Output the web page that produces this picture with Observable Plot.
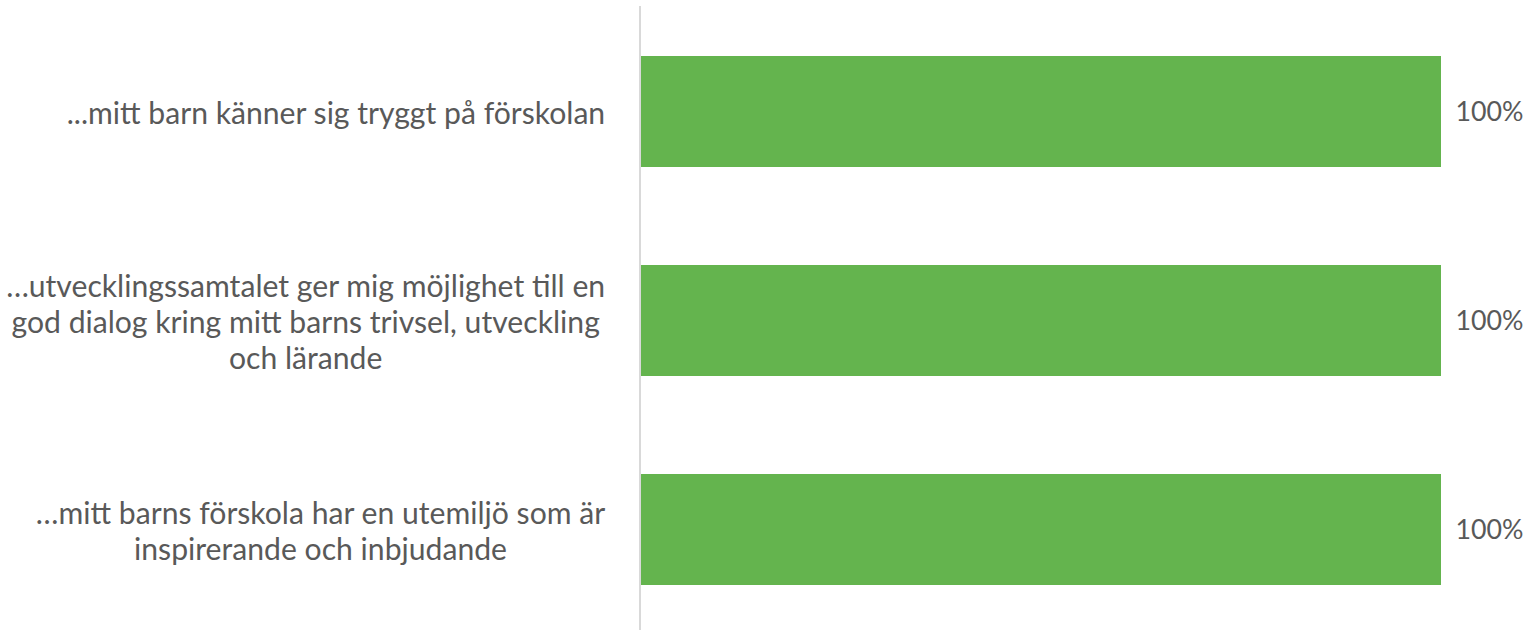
<!DOCTYPE html>
<html>
<head>
<meta charset="utf-8">
<script src="https://cdn.jsdelivr.net/npm/d3@7"></script>
<script src="https://cdn.jsdelivr.net/npm/@observablehq/plot@0.6"></script>
<style>
  html, body { margin: 0; padding: 0; background: #fff; }
  #chart svg { display: block; overflow: visible; }
</style>
</head>
<body>
<div id="chart"></div>
<script>
const categories = ["q1", "q2", "q3"];
const labels = [
  "...mitt barn känner sig tryggt på förskolan",
  "…utvecklingssamtalet ger mig möjlighet till en\ngod dialog kring mitt barns trivsel, utveckling\noch lärande",
  "…mitt barns förskola har en utemiljö som är\ninspirerande och inbjudande"
];
const values = [1, 1, 1];
const valueLabels = ["100%", "100%", "100%"];

const data = categories.map((c, i) => ({cat: c, value: values[i], label: labels[i], vlabel: valueLabels[i]}));

const FONT = "Lato";
const ctx = document.createElement("canvas").getContext("2d");
function measure(t, fs) { ctx.font = `${fs}px ${FONT}`; return ctx.measureText(t).width; }
// fit font so the widest label line is ~600px
const widest = "…utvecklingssamtalet ger mig möjlighet till en";
const fs = 28 * 600 / measure(widest, 28);
const fsV = 28 * 68 / measure("100%", 28);
const blockW = labels.map(l => Math.max(...l.split("\n").map(s => measure(s, fs))));

const textColor = "#595959";
const marks = [
  Plot.barX(data, {x: "value", y: "cat", fill: "#64b44e"}),
  Plot.ruleX([0], {stroke: "#d9d9d9", strokeWidth: 2, dx: -1.5}),
  Plot.text(data, {x: "value", y: "cat", text: "vlabel", textAnchor: "start", dx: 14, fill: textColor, fontSize: fsV}),
  ...data.map((d, i) => Plot.text([d], {
    x: 0, y: "cat", text: "label", textAnchor: "middle",
    dx: -(36 + blockW[i] / 2), fill: textColor, fontSize: fs, lineHeight: 36 / fs
  }))
];

const chart = Plot.plot({
  width: 1529,
  height: 630,
  marginLeft: 641,
  marginRight: 88,
  marginTop: 6,
  marginBottom: 0,
  style: {fontFamily: FONT, background: "#fff", overflow: "visible"},
  x: {domain: [0, 1], axis: null},
  y: {domain: categories, range: [5.8, 634.3], paddingInner: 0.47, paddingOuter: 0.235, axis: null},
  marks
});
document.getElementById("chart").appendChild(chart);
</script>
</body>
</html>
